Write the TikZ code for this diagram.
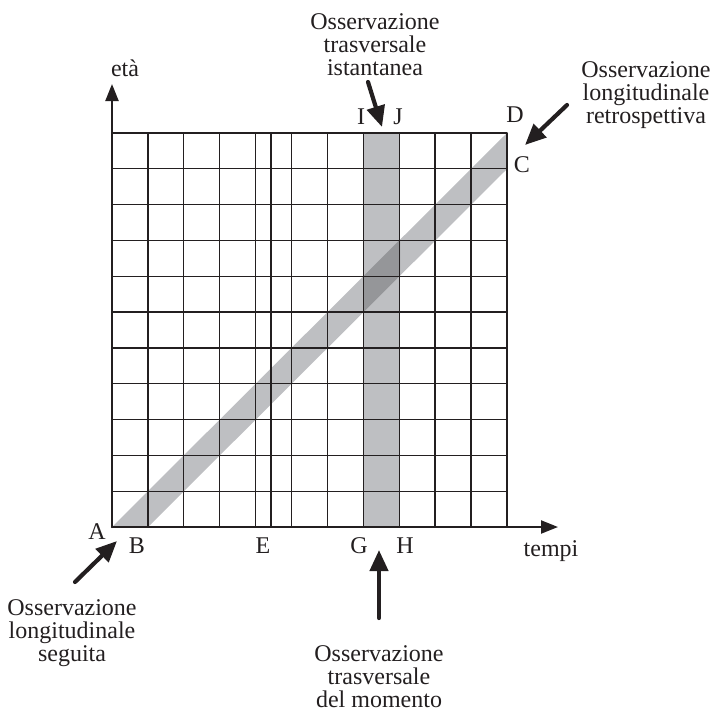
\documentclass[tikz,border=0pt]{standalone}
\usepackage{fontspec}
\setmainfont{Liberation Serif}
\usepackage{tikz}
\usetikzlibrary{arrows.meta}
\usetikzlibrary{calc}
\definecolor{BandGray}{RGB}{190,191,194}
\definecolor{CrossGray}{RGB}{149,150,153}
\definecolor{InkBlack}{RGB}{35,31,32}
\tikzset{
	>={Triangle[length=17pt,width=13pt]},
	gridline/.style={InkBlack, line width=1.3pt},
	frame/.style={InkBlack, line width=1.8pt},
	axis/.style={InkBlack, line width=2.2pt, ->},
	band/.style={BandGray},
	pointer/.style={InkBlack, line width=4.2pt, -{Triangle[length=21pt,width=18pt]}},
	letter/.style={text=InkBlack, font=\fontsize{24}{23}\selectfont, inner sep=0pt},
	caption/.style={text=InkBlack, font=\fontsize{24}{23}\selectfont, align=center, inner sep=0pt},
}

\begin{document}
\begin{tikzpicture}[x=1pt, y=-1pt, line cap=round, line join=round]
		\useasboundingbox (0,0) rectangle (712,713);
		
		% Corners of the grid and of the bands
		\coordinate (A) at (112,527);
		\coordinate (B) at (148,527);
		\coordinate (C) at (507,169);
		\coordinate (D) at (507,133);
		\coordinate (G) at (364,527);
		\coordinate (J) at (400,133);
		\coordinate (topleft) at (112,133);
		\coordinate (botright) at (507,527);
		
		% Shaded bands (diagonal and vertical) and their overlap
		\fill[band] (A) -- (B) -- (C) -- (D) -- cycle;
		\fill[band] (G) rectangle (J);
		\fill[CrossGray] (364,275.6) -- (364,311.6) -- (400,275.7) -- (400,239.7) -- cycle;
		
		% Grid
		\foreach \i in {1,...,10}
			\draw[gridline] (112+35.9*\i,133) -- (112+35.9*\i,527);
		\draw[gridline] (271,133) -- (271,527);
		\foreach \j in {1,...,10}
			\draw[gridline] (112,527-35.82*\j) -- (507,527-35.82*\j);
		\draw[frame] (topleft) -- (D) -- (botright);
		
		% Axes
		\coordinate (xend) at (558,527);
		\coordinate (yend) at (112,84);
		\draw[axis] (A) -- (xend);
		\draw[axis] (A) -- (yend);
		\node[letter] (eta) at (125,68) {età};
		\node[letter] (tempi) at (551,551) {tempi};
		
		% Letters
		\node[letter] (labA) at (97,532) {A};
		\node[letter] (labB) at (137,546) {B};
		\node[letter] (labE) at (263,546) {E};
		\node[letter] (labG) at (359,546) {G};
		\node[letter] (labH) at (405,546) {H};
		\node[letter] (labI) at (361,117) {I};
		\node[letter] (labJ) at (398,117) {J};
		\node[letter] (labD) at (515,115) {D};
		\node[letter] (labC) at (522,165) {C};
		
		% Captions
		\node[caption] (obsIst) at (375,45) {Osservazione\\trasversale\\istantanea};
		\node[caption] (obsRetro) at (646,95) {Osservazione\\longitudinale\\retrospettiva};
		\node[caption] (obsSeg) at (72,633) {Osservazione\\longitudinale\\seguita};
		\node[caption] (obsMom) at (379,677) {Osservazione\\trasversale\\del momento};
		
		% Pointers
		\coordinate (istTail) at (368,82);
		\coordinate (istTip) at (382,127);
		\coordinate (retroTail) at (567,105);
		\coordinate (retroTip) at (525,145);
		\coordinate (segTail) at (75,582);
		\coordinate (segTip) at (117,541);
		\coordinate (momTail) at (379,618);
		\coordinate (momTip) at (379,550);
		\draw[pointer] (istTail) -- (istTip);
		\draw[pointer] (retroTail) -- (retroTip);
		\draw[pointer] (segTail) -- (segTip);
		\draw[pointer] (momTail) -- (momTip);
	\end{tikzpicture}
\end{document}
